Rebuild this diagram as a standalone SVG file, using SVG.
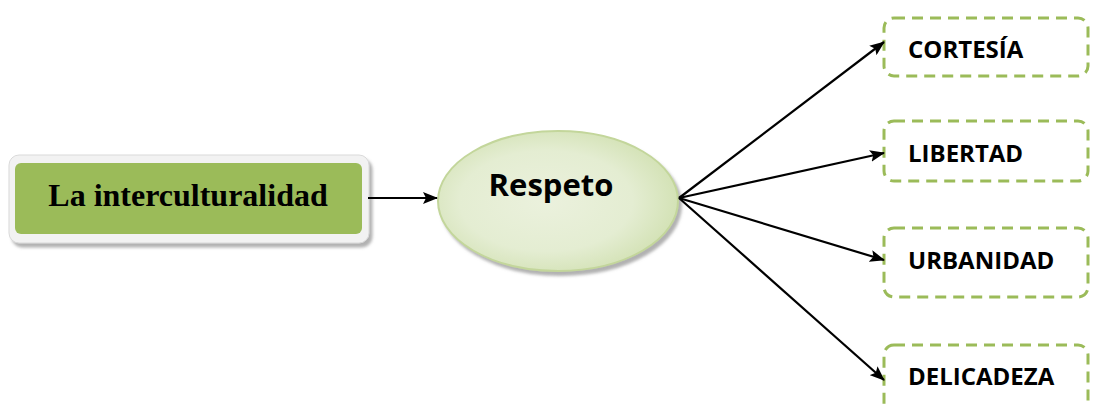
<svg xmlns="http://www.w3.org/2000/svg" width="1097" height="407" viewBox="0 0 1097 407">
<defs>
<style>
.box{fill:#fff;stroke:#9bbb59;stroke-width:3;stroke-dasharray:11 7}
.lbl{font-family:"Open Sans","Liberation Sans",sans-serif;font-weight:bold;font-size:24px;fill:#000}
.con{stroke:#000;stroke-width:2.2;fill:none;marker-end:url(#ah)}
</style>
<marker id="ah" markerWidth="15" markerHeight="12" refX="14" refY="6" orient="auto" markerUnits="userSpaceOnUse" viewBox="0 0 15 12">
<path d="M0,0 L15,6 L0,12 L3,6 Z" fill="#000"/>
</marker>
<radialGradient id="eg" cx="0.45" cy="0.5" r="0.6">
<stop offset="0" stop-color="#ebf1dd"/>
<stop offset="0.6" stop-color="#e4edd2"/>
<stop offset="1" stop-color="#cfdfae"/>
</radialGradient>
<filter id="sh" x="-10%" y="-10%" width="125%" height="130%">
<feDropShadow dx="3" dy="4" stdDeviation="1.5" flood-color="#7f7f7f" flood-opacity="0.6"/>
</filter>
</defs>
<g id="n-intercult">
<rect x="9" y="155" width="360" height="88" rx="10" fill="#f2f2f2" stroke="#d9d9d9" stroke-width="1" filter="url(#sh)"/>
<rect x="15" y="163" width="347" height="71" rx="6" fill="#9bbb59"/>
<text x="188" y="206" text-anchor="middle" font-family="Liberation Serif,serif" font-weight="bold" font-size="32">La interculturalidad</text>
</g>
<g id="n-respeto">
<ellipse cx="558" cy="201" rx="120" ry="70" fill="url(#eg)" stroke="#c3d69b" stroke-width="2" filter="url(#sh)"/>
<text x="551" y="196" text-anchor="middle" font-family="Open Sans,Liberation Sans,sans-serif" font-weight="bold" font-size="31">Respeto</text>
</g>
<g id="n-cortesia">
<rect class="box" x="884" y="18" width="204" height="58" rx="10"/>
<text class="lbl" x="908" y="58">CORTESÍA</text>
</g>
<g id="n-libertad">
<rect class="box" x="884" y="121" width="204" height="60" rx="10"/>
<text class="lbl" x="908" y="162">LIBERTAD</text>
</g>
<g id="n-urbanidad">
<rect class="box" x="884" y="228" width="204" height="69" rx="10"/>
<text class="lbl" x="908" y="269">URBANIDAD</text>
</g>
<g id="n-delicadeza">
<rect class="box" x="884" y="345" width="204" height="80" rx="10"/>
<text class="lbl" x="908" y="385">DELICADEZA</text>
</g>
<g id="connectors">
<line class="con" x1="368" y1="198" x2="437" y2="198"/>
<line class="con" x1="679" y1="198" x2="884" y2="42"/>
<line class="con" x1="679" y1="198" x2="884" y2="153"/>
<line class="con" x1="679" y1="198" x2="884" y2="260"/>
<line class="con" x1="679" y1="198" x2="884" y2="380"/>
</g>
</svg>
